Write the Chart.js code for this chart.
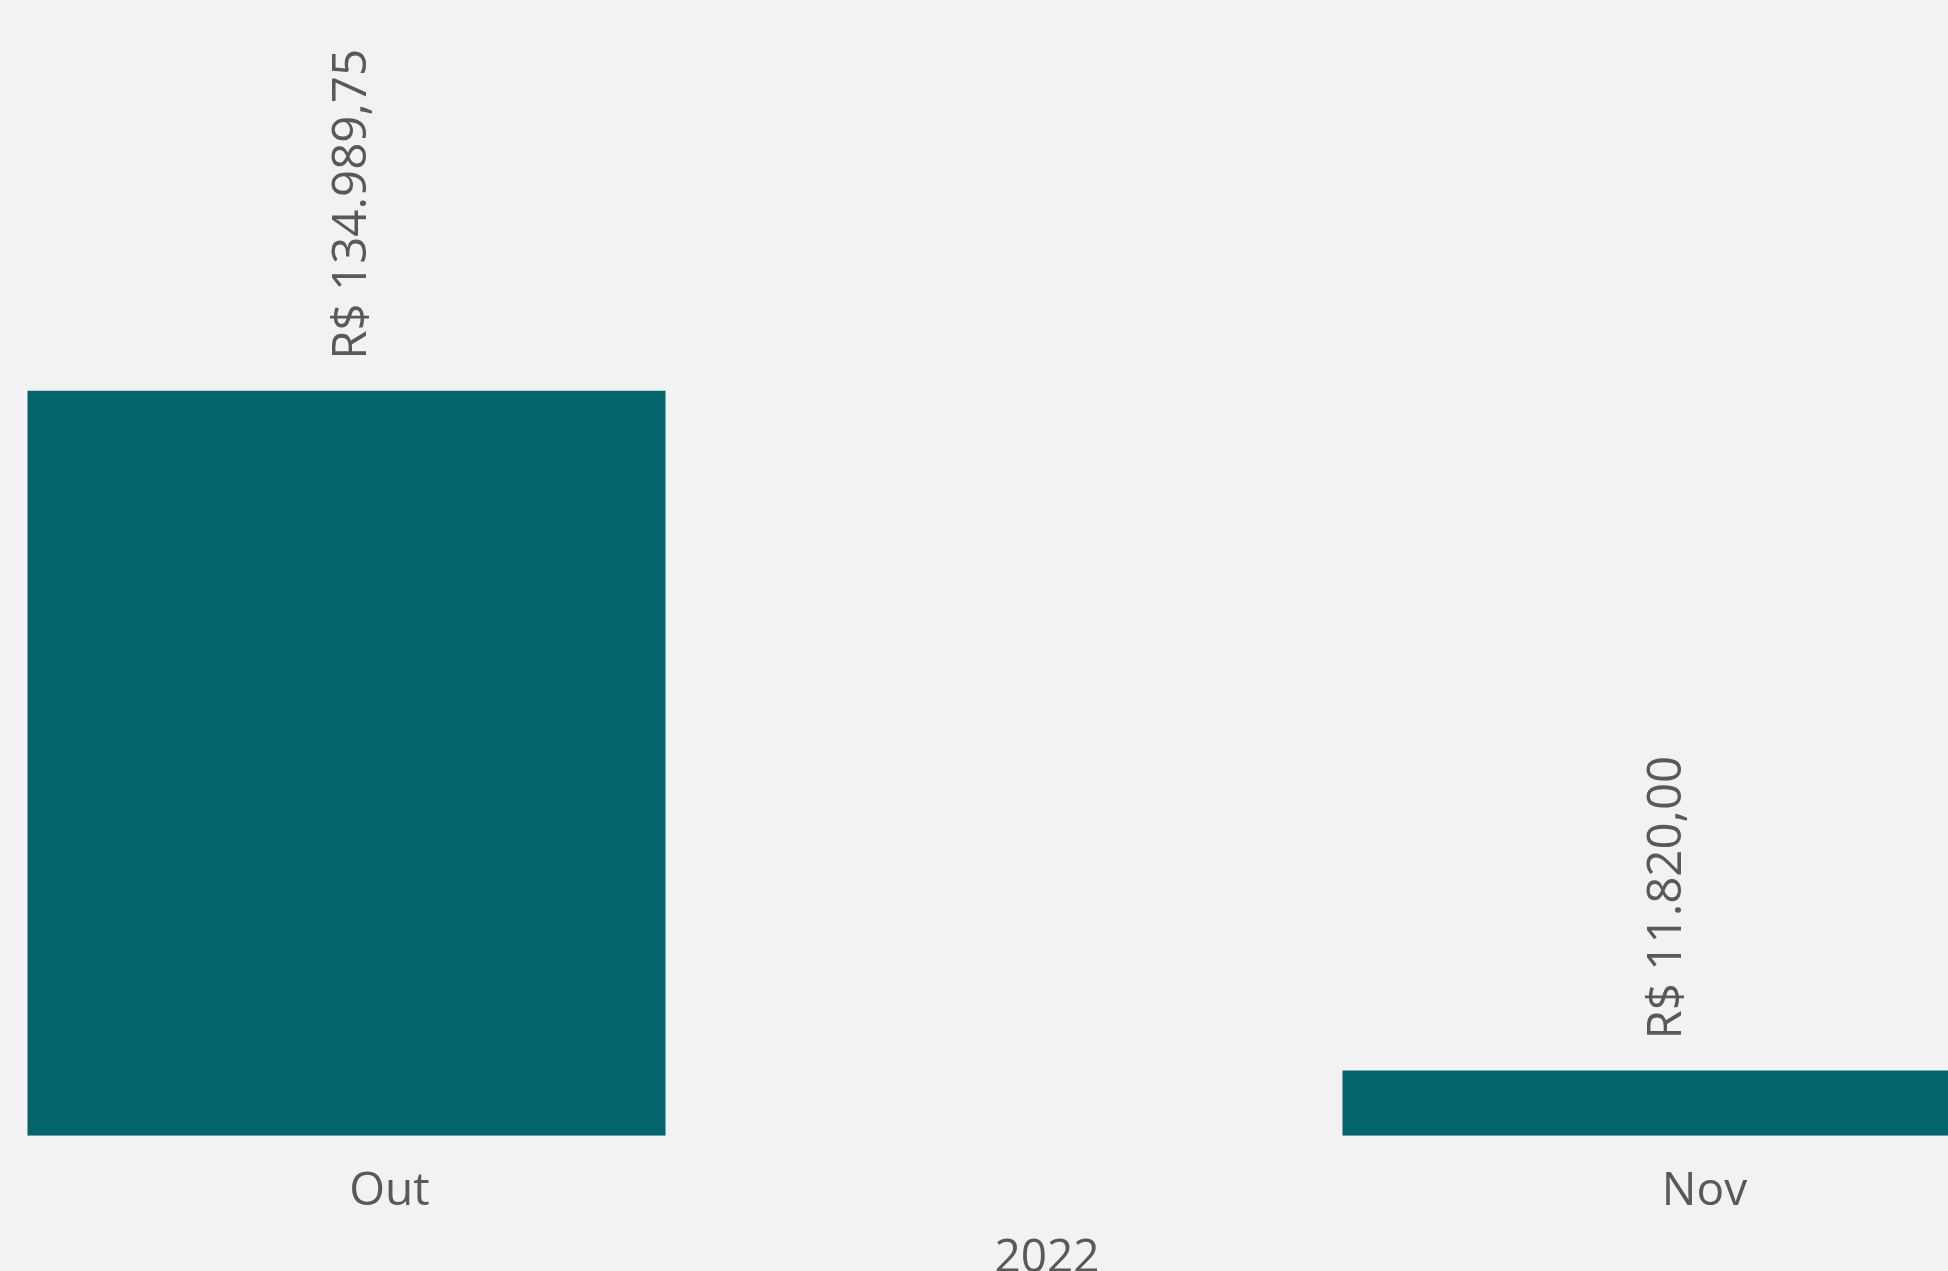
<!DOCTYPE html>
<html><head><meta charset="utf-8">
<script src="https://cdn.jsdelivr.net/npm/chart.js@4/dist/chart.umd.min.js"></script>
<style>
html,body{margin:0;padding:0;background:#f2f2f2;overflow:hidden;width:1948px;height:1271px;}
#wrap{position:absolute;left:-311px;top:0;width:2630px;height:1300px;}
</style></head><body>
<div id="wrap"><canvas id="c" width="2630" height="1300"></canvas></div>
<script>
const categories = ['Out', 'Nov'];
const groupLabels = ['2022'];
const values = [134989.75, 11820.00];
const yMax = 200000;

function fmtBRL(v) {
  const parts = v.toFixed(2).split('.');
  return 'R$ ' + parts[0].replace(/\B(?=(\d{3})+(?!\d))/g, '.') + ',' + parts[1];
}

const textColor = '#595959';
const fontFamily = '"Open Sans", sans-serif';

const valueLabels = {
  id: 'valueLabels',
  afterDatasetsDraw(chart) {
    const ctx = chart.ctx;
    const meta = chart.getDatasetMeta(0);
    ctx.save();
    ctx.font = '47.5px ' + fontFamily;
    ctx.fillStyle = textColor;
    ctx.textAlign = 'left';
    ctx.textBaseline = 'middle';
    meta.data.forEach((bar, i) => {
      ctx.save();
      ctx.translate(bar.x + 6, bar.y - 31);
      ctx.rotate(-Math.PI / 2);
      ctx.fillText(fmtBRL(values[i]), 0, 0);
      ctx.restore();
    });
    ctx.restore();
  }
};

new Chart(document.getElementById('c'), {
  type: 'bar',
  data: {
    labels: categories,
    datasets: [{
      data: values,
      backgroundColor: '#04646d',
      barPercentage: 0.4852,
      categoryPercentage: 1
    }]
  },
  options: {
    responsive: false,
    animation: false,
    devicePixelRatio: 1,
    layout: { padding: { top: 32, left: 0, right: 0, bottom: 0 } },
    plugins: { legend: { display: false }, tooltip: { enabled: false } },
    scales: {
      x: {
        type: 'category',
        offset: true,
        weight: 0,
        grid: { display: false, drawTicks: false },
        border: { display: false },
        ticks: { color: textColor, font: { family: fontFamily, size: 46 }, padding: 29, labelOffset: 43, maxRotation: 0, autoSkip: false },
        afterFit(s) { s.height = 80; }
      },
      x2: {
        type: 'category',
        position: 'bottom',
        labels: groupLabels,
        offset: true,
        weight: 1,
        grid: { display: false, drawTicks: false },
        border: { display: false },
        ticks: { color: textColor, font: { family: fontFamily, size: 46 }, padding: 16, labelOffset: 43, maxRotation: 0, autoSkip: false },
        afterFit(s) { s.height = 84.3; }
      },
      y: { display: false, min: 0, max: yMax }
    }
  },
  plugins: [valueLabels]
});
</script>
</body></html>
